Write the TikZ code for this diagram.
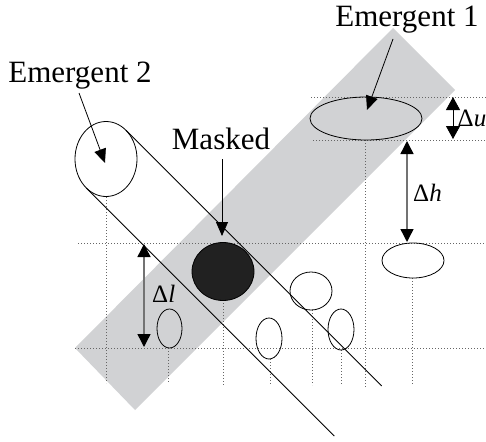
\documentclass[tikz,border=0pt]{standalone}
\usepackage{fontspec}
\setmainfont{Liberation Serif}
\usetikzlibrary{arrows.meta,shapes.geometric}
\definecolor{bandgrey}{RGB}{209,210,212}
\begin{document}
\begin{tikzpicture}[x=1pt,y=-1pt,
  blob/.style={ellipse,draw,line width=0.8pt,inner sep=0pt,outer sep=0pt},
  guide/.style={draw=black!60,line width=0.9pt,dash pattern=on 1pt off 2pt},
  ptr/.style={line width=0.8pt,-{Triangle[length=14pt,width=12pt]}},
  meas/.style={line width=1.4pt,draw=black!55,{Triangle[length=13pt,width=13pt,color=black]}-{Triangle[length=13pt,width=13pt,color=black]}},
  measb/.style={line width=0.9pt,{Triangle[length=13pt,width=14pt]}-{Triangle[length=13pt,width=14pt]}},
  lbl/.style={font=\fontsize{31}{31}\selectfont,anchor=base,inner sep=0pt},
  dlbl/.style={font=\fontsize{25}{25}\selectfont,inner sep=0pt},
  tube/.style={line width=0.8pt}
]
\useasboundingbox (0,0) rectangle (486,441);
% grey band
\fill[bandgrey] (75,348) -- (393,28) -- (455,90) -- (135,410) -- cycle;
% dotted guides
\draw[guide] (311,97) -- (486,97);
\draw[guide] (313,140) -- (486,140);
\draw[guide] (78,243) -- (486,243);
\draw[guide] (75,348) -- (486,348);
\draw[guide] (106,197) -- (106,383);
\draw[guide] (168,348) -- (168,383);
\draw[guide] (223,300) -- (223,385);
\draw[guide] (270,359) -- (270,384);
\draw[guide] (312,310) -- (312,385);
\draw[guide] (341,350) -- (341,384);
\draw[guide] (365,140) -- (365,387);
\draw[guide] (412,278) -- (412,385);
% ellipses
\node[blob,minimum width=62pt,minimum height=75pt] (e2) at (106,159) {};
\node[blob,minimum width=112pt,minimum height=43pt] (e1) at (366,118.5) {};
\node[blob,fill=black!87,minimum width=62pt,minimum height=58pt] (mk) at (223,271.5) {};
\node[blob,minimum width=25pt,minimum height=39pt] (s1) at (169.5,328.5) {};
\node[blob,minimum width=62pt,minimum height=35pt] (s2) at (413,260.5) {};
\node[blob,minimum width=42pt,minimum height=38pt] (s3) at (311,291) {};
\node[blob,minimum width=26pt,minimum height=41pt] (s4) at (269,338.5) {};
\node[blob,minimum width=26pt,minimum height=41pt] (s5) at (341,329.5) {};
% tube tangents
\coordinate (tu1) at (125.8,130.1);
\coordinate (tu2) at (381.7,386);
\coordinate (tl1) at (86.2,187.9);
\coordinate (tl2) at (334.3,436);
\draw[tube] (tu1) -- (tu2);
\draw[tube] (tl1) -- (tl2);
% labels
\node[lbl] (l2) at (80,82) {Emergent 2};
\node[lbl] (l1) at (407,27) {Emergent 1};
\node[lbl] (lm) at (221,149) {Masked};
% pointer arrows
\coordinate (a2s) at (79,93);
\coordinate (a2e) at (105,163);
\draw[ptr] (a2s) -- (a2e);
\coordinate (a1s) at (393,39);
\coordinate (a1e) at (367,110);
\draw[ptr] (a1s) -- (a1e);
\coordinate (ams) at (222,159);
\coordinate (ame) at (222,236);
\draw[ptr] (ams) -- (ame);
% measures
\coordinate (du1) at (453,97);
\coordinate (du2) at (453,139);
\draw[measb] (du1) -- (du2);
\node[dlbl,anchor=west] (du) at (457.5,118) {Δ\textit{u}};
\coordinate (dh1) at (407,141);
\coordinate (dh2) at (407,242);
\draw[meas] (dh1) -- (dh2);
\node[dlbl,anchor=west] (dh) at (413,193) {Δ\textit{h}};
\coordinate (dl1) at (144,244);
\coordinate (dl2) at (144,347);
\draw[meas] (dl1) -- (dl2);
\node[dlbl,anchor=west] (dl) at (152,294) {Δ\textit{l}};
\end{tikzpicture}
\end{document}
